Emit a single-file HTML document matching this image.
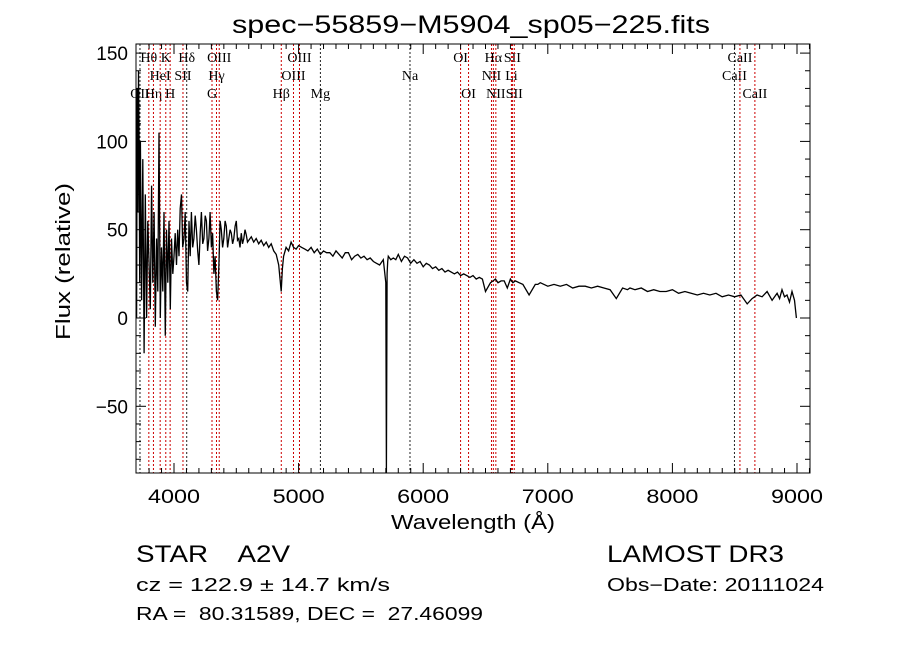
<!DOCTYPE html>
<html><head><meta charset="utf-8"><style>
body{margin:0;background:#fff;}
svg text{font-family:"Liberation Sans",sans-serif;white-space:pre;}
.ser{font-family:"Liberation Serif",serif !important;}
</style></head><body>
<svg id="chart" width="900" height="649" viewBox="0 0 900 649" xmlns="http://www.w3.org/2000/svg" xml:space="preserve">
<rect width="900" height="649" fill="#fff"/>
<text x="232" y="33" font-size="25" textLength="478" lengthAdjust="spacingAndGlyphs">spec−55859−M5904_sp05−225.fits</text>
<g id="lines"></g>
<g id="spec"></g>
<g id="axes"></g>
<text x="391" y="529" font-size="20" textLength="164" lengthAdjust="spacingAndGlyphs">Wavelength (Å)</text>
<text transform="translate(70,340) rotate(-90)" font-size="20" textLength="157" lengthAdjust="spacingAndGlyphs">Flux (relative)</text>
<text x="136" y="562" font-size="24" textLength="154" lengthAdjust="spacingAndGlyphs">STAR    A2V</text>
<text x="136" y="591" font-size="18" textLength="254" lengthAdjust="spacingAndGlyphs">cz = 122.9 ± 14.7 km/s</text>
<text x="136" y="620" font-size="18" textLength="347" lengthAdjust="spacingAndGlyphs">RA =  80.31589, DEC =  27.46099</text>
<text x="607" y="562" font-size="24" textLength="177" lengthAdjust="spacingAndGlyphs">LAMOST DR3</text>
<text x="607" y="591" font-size="18" textLength="217" lengthAdjust="spacingAndGlyphs">Obs−Date: 20111024</text>
</svg>
<script>
const wave = [3700,3705,3710,3715,3720,3725,3730,3740,3750,3760,3770,3780,3790,3800,3810,3820,3830,3840,3850,3860,3870,3880,3890,3900,3910,3920,3930,3940,3950,3960,3970,3980,3990,4000,4010,4020,4030,4040,4050,4060,4070,4080,4090,4100,4110,4120,4130,4140,4150,4160,4170,4180,4190,4200,4210,4220,4230,4240,4250,4260,4270,4280,4290,4300,4310,4320,4330,4340,4350,4360,4370,4380,4390,4400,4410,4420,4430,4440,4450,4460,4470,4480,4490,4500,4510,4520,4530,4540,4550,4560,4570,4580,4590,4600,4620,4640,4660,4680,4700,4720,4740,4760,4780,4800,4820,4840,4860,4870,4880,4900,4920,4940,4960,4980,5000,5025,5050,5075,5100,5125,5150,5175,5200,5225,5250,5275,5300,5325,5350,5375,5400,5425,5450,5475,5500,5525,5550,5575,5600,5625,5650,5680,5700,5705,5710,5715,5720,5740,5760,5780,5800,5825,5850,5875,5900,5925,5950,5975,6000,6025,6050,6075,6100,6125,6150,6175,6200,6225,6250,6275,6300,6325,6350,6375,6400,6425,6450,6475,6500,6540,6560,6580,6600,6625,6650,6675,6700,6720,6740,6770,6800,6850,6900,6920,6940,7000,7050,7100,7150,7200,7250,7300,7350,7400,7450,7500,7550,7600,7640,7660,7700,7750,7800,7850,7900,7950,8000,8050,8100,8150,8200,8250,8300,8350,8400,8450,8500,8550,8600,8640,8660,8680,8720,8760,8800,8840,8860,8880,8900,8920,8940,8960,8980,8995,9000];
const flux = [0,130,60,140,100,20,100,10,90,-20,70,0,55,30,5,75,20,60,-5,45,15,105,0,40,15,60,-10,50,20,55,5,45,25,35,48,30,50,35,62,70,40,45,60,20,15,55,35,60,40,45,58,50,38,30,48,60,42,45,58,55,38,45,60,40,48,25,35,15,10,30,55,50,40,45,55,52,40,45,50,48,42,45,52,55,44,45,40,48,42,45,50,47,43,44,46,43,45,42,44,41,43,40,42,38,36,30,15,28,35,40,38,43,40,39,41,40,39,38,40,37,39,36,38,37,37,35,38,36,34,37,37,33,35,36,34,35,33,34,32,31,30,33,20,-88,25,32,35,33,34,33,36,32,35,34,31,33,31,32,29,31,30,28,29,27,28,26,27,26,25,26,24,25,24,23,24,22,23,22,15,20,21,22,20,21,21,17,22,20,21,20,19,13,19,19,20,18,19,18,19,17,18,18,17,18,17,16,11,17,16,17,16,17,15,16,15,15,16,14,15,14,13,14,13,14,12,13,12,13,8,11,12,13,12,15,10,14,11,16,12,13,9,15,10,0];
const lineWave = [3727,3798,3835,3889,3934,3969,4072,4102,4305,4341,4363,4861,4959,5007,5175,5894,6300,6364,6548,6563,6583,6708,6716,6731,8498,8542,8662];
const lineColor = ['k','r','r','r','r','r','r','k','r','r','r','r','r','r','k','k','r','r','r','r','r','r','r','r','k','r','r'];
const labels = ['OII','Hθ','Hη','HeI','K','H','SII','Hδ','G','Hγ','OIII','Hβ','OIII','OIII','Mg','Na','OI','OI','NII','Hα','NII','Li','SII','SII','CaII','CaII','CaII'];
const labelRow = [2,0,2,1,0,2,1,0,2,1,0,2,1,0,2,1,0,2,1,0,2,1,0,2,1,0,2];
const xTicks = [4000,5000,6000,7000,8000,9000];
const yTicks = [-50,0,50,100,150];

const L=136,R=810,T=44,B=473;
const X = w => 174 + (w-4000)*0.1246;
const Y = f => 318 - f*1.766;
const NS='http://www.w3.org/2000/svg';
function mk(tag, attrs, parent){const e=document.createElementNS(NS,tag);for(const k in attrs)e.setAttribute(k,attrs[k]);parent.appendChild(e);return e;}
const gl=document.getElementById('lines'), gs=document.getElementById('spec'), ga=document.getElementById('axes');
const clip = mk('clipPath',{id:'pc'},document.getElementById('chart')); mk('rect',{x:L,y:T,width:R-L,height:B-T},clip);
const rowY=[62,80,98];
lineWave.forEach((w,i)=>{
  const l=mk('line',{x1:X(w),x2:X(w),y1:T,y2:B,stroke:lineColor[i]=='r'?'#cc0000':'#222','stroke-width':1,'stroke-dasharray':'2,2'},gl);
  
  
  const t=mk('text',{x:X(w),y:rowY[labelRow[i]],'text-anchor':'middle','font-size':14,class:'ser'},gl);
  t.textContent=labels[i];
  
  
});
const p=mk('path',{d:wave.map((w,i)=>(i?'L':'M')+X(w).toFixed(1)+','+Y(flux[i]).toFixed(1)).join(''),fill:'none',stroke:'#000','stroke-width':1.3,'clip-path':'url(#pc)'},gs);


const fr=mk('rect',{x:L,y:T,width:R-L,height:B-T,fill:'none',stroke:'#000','stroke-width':1},ga);


for(let w=3800;w<=9100;w+=100){
  const major=w%1000==0, len=major?10:5;
  mk('line',{x1:X(w),x2:X(w),y1:B,y2:B-len,stroke:'#000'},ga);
  mk('line',{x1:X(w),x2:X(w),y1:T,y2:T+len,stroke:'#000'},ga);
}
for(let f=-80;f<=150;f+=10){
  const major=f%50==0, len=major?10:5;
  mk('line',{x1:L,x2:L+len,y1:Y(f),y2:Y(f),stroke:'#000'},ga);
  mk('line',{x1:R,x2:R-len,y1:Y(f),y2:Y(f),stroke:'#000'},ga);
}
xTicks.forEach(w=>{const t=mk('text',{x:X(w)-26,y:503,'font-size':19,textLength:52,lengthAdjust:'spacingAndGlyphs'},ga);t.textContent=w;
  
  });
yTicks.forEach(f=>{const t=mk('text',{x:128,y:Y(f)+7,'text-anchor':'end','font-size':19},ga);t.textContent=f<0?'−'+(-f):f;
  
  });
</script>
</body></html>
